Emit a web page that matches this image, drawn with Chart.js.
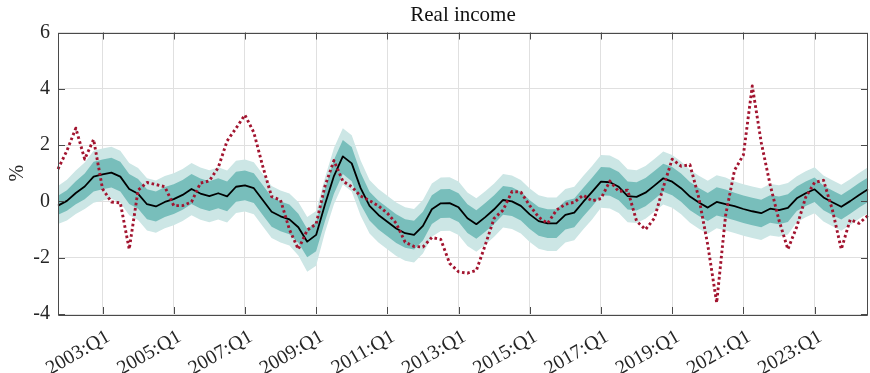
<!DOCTYPE html>
<html><head><meta charset="utf-8">
<script src="https://cdn.jsdelivr.net/npm/chart.js@4"></script>
<style>html,body{margin:0;padding:0;background:#fff;}#wrap{width:870px;height:373px;position:relative;}</style>
</head><body><div id="wrap"><canvas id="c"></canvas></div>
<script>
const quarters = ['2001:Q4',
'2002:Q1','2002:Q2','2002:Q3','2002:Q4','2003:Q1','2003:Q2','2003:Q3','2003:Q4',
'2004:Q1','2004:Q2','2004:Q3','2004:Q4','2005:Q1','2005:Q2','2005:Q3','2005:Q4',
'2006:Q1','2006:Q2','2006:Q3','2006:Q4','2007:Q1','2007:Q2','2007:Q3','2007:Q4',
'2008:Q1','2008:Q2','2008:Q3','2008:Q4','2009:Q1','2009:Q2','2009:Q3','2009:Q4',
'2010:Q1','2010:Q2','2010:Q3','2010:Q4','2011:Q1','2011:Q2','2011:Q3','2011:Q4',
'2012:Q1','2012:Q2','2012:Q3','2012:Q4','2013:Q1','2013:Q2','2013:Q3','2013:Q4',
'2014:Q1','2014:Q2','2014:Q3','2014:Q4','2015:Q1','2015:Q2','2015:Q3','2015:Q4',
'2016:Q1','2016:Q2','2016:Q3','2016:Q4','2017:Q1','2017:Q2','2017:Q3','2017:Q4',
'2018:Q1','2018:Q2','2018:Q3','2018:Q4','2019:Q1','2019:Q2','2019:Q3','2019:Q4',
'2020:Q1','2020:Q2','2020:Q3','2020:Q4','2021:Q1','2021:Q2','2021:Q3','2021:Q4',
'2022:Q1','2022:Q2','2022:Q3','2022:Q4','2023:Q1','2023:Q2','2023:Q3','2023:Q4',
'2024:Q1','2024:Q2','2024:Q3'];
const xTickLabels = ['2003:Q1','2005:Q1','2007:Q1','2009:Q1','2011:Q1','2013:Q1','2015:Q1','2017:Q1','2019:Q1','2021:Q1','2023:Q1'];
const yTickValues = [-4,-2,0,2,4,6];

const median = [-0.15,0.02,0.30,0.53,0.88,0.96,1.02,0.88,0.44,0.27,
 -0.10,-0.18,-0.02,0.08,0.23,0.44,0.28,0.19,0.29,0.18,
 0.52,0.57,0.47,0.05,-0.37,-0.53,-0.64,-0.92,-1.43,-1.19,
 -0.10,0.90,1.60,1.35,0.47,-0.16,-0.48,-0.72,-0.96,-1.13,
 -1.19,-0.87,-0.28,-0.07,-0.06,-0.21,-0.60,-0.81,-0.56,-0.28,
 0.05,0.00,-0.16,-0.46,-0.70,-0.78,-0.78,-0.48,-0.40,-0.02,
 0.34,0.70,0.68,0.52,0.19,0.16,0.31,0.56,0.82,0.70,
 0.47,0.17,-0.04,-0.22,-0.02,-0.10,-0.17,-0.27,-0.35,-0.42,
 -0.26,-0.31,-0.23,0.11,0.29,0.43,0.14,-0.03,-0.19,0.01,
 0.23,0.43];

const actual = [1.15,1.8,2.6,1.5,2.2,0.45,-0.02,-0.05,-1.7,0.4,
 0.67,0.6,0.52,-0.15,-0.15,-0.02,0.65,0.73,1.2,2.15,
 2.6,3.07,2.45,1.25,0.17,0.05,-1.0,-1.7,-1.02,-0.8,
 0.55,1.45,0.72,0.52,0.19,0.03,-0.16,-0.42,-0.78,-1.45,
 -1.6,-1.62,-1.28,-1.35,-2.2,-2.5,-2.55,-2.45,-1.55,-0.6,
 -0.31,0.35,0.33,-0.15,-0.56,-0.78,-0.31,-0.1,-0.03,0.22,
 0.02,0.1,0.72,0.35,0.4,-0.7,-1.0,-0.6,0.5,1.5,
 1.25,1.3,0.12,-1.55,-3.6,-0.5,1.1,1.65,4.1,2.1,
 0.6,-0.67,-1.7,-0.9,0.15,0.67,0.75,-0.3,-1.7,-0.65,
 -0.78,-0.5];

const outerUpper = [0.55,0.77,1.10,1.38,1.80,1.88,1.94,1.80,1.36,1.19,
 0.82,0.74,0.90,1.00,1.15,1.36,1.20,1.11,1.21,1.10,
 1.44,1.49,1.39,0.97,0.55,0.39,0.28,-0.02,-0.55,-0.34,
 0.85,1.90,2.60,2.35,1.45,0.76,0.44,0.20,-0.04,-0.21,
 -0.27,0.05,0.64,0.85,0.86,0.71,0.32,0.11,0.36,0.64,
 0.97,0.92,0.76,0.46,0.22,0.14,0.14,0.44,0.52,0.90,
 1.26,1.65,1.63,1.47,1.14,1.11,1.26,1.51,1.77,1.65,
 1.42,1.12,0.91,0.73,0.93,0.85,0.71,0.61,0.53,0.46,
 0.62,0.57,0.65,0.89,1.07,1.21,0.92,0.75,0.59,0.79,
 1.01,1.21];

const outerLower = [-0.80,-0.68,-0.45,-0.27,-0.05,0.03,0.09,-0.05,-0.49,-0.66,
 -1.03,-1.11,-0.95,-0.85,-0.70,-0.49,-0.65,-0.74,-0.64,-0.75,
 -0.41,-0.36,-0.46,-0.88,-1.30,-1.46,-1.57,-1.92,-2.50,-2.29,
 -1.10,-0.10,0.60,0.35,-0.51,-1.14,-1.46,-1.70,-1.94,-2.11,
 -2.17,-1.85,-1.26,-1.05,-1.04,-1.19,-1.58,-1.79,-1.54,-1.26,
 -0.93,-0.98,-1.14,-1.44,-1.68,-1.76,-1.76,-1.46,-1.38,-1.00,
 -0.64,-0.23,-0.25,-0.41,-0.74,-0.77,-0.62,-0.37,-0.11,-0.23,
 -0.46,-0.76,-0.97,-1.15,-0.95,-1.03,-1.12,-1.22,-1.30,-1.37,
 -1.21,-1.26,-1.18,-0.74,-0.56,-0.42,-0.71,-0.88,-1.04,-0.84,
 -0.62,-0.42];

const innerUpper = [0.20,0.40,0.72,0.99,1.41,1.49,1.55,1.41,0.97,0.80,
 0.43,0.35,0.51,0.61,0.76,0.97,0.81,0.72,0.82,0.71,
 1.05,1.10,1.00,0.58,0.16,0.00,-0.11,-0.44,-0.98,-0.74,
 0.45,1.48,2.18,1.93,1.02,0.34,0.02,-0.22,-0.46,-0.63,
 -0.69,-0.37,0.22,0.43,0.44,0.29,-0.10,-0.31,-0.06,0.22,
 0.55,0.50,0.34,0.04,-0.20,-0.28,-0.28,0.02,0.10,0.48,
 0.84,1.22,1.20,1.04,0.71,0.68,0.83,1.08,1.34,1.22,
 0.99,0.69,0.48,0.30,0.50,0.42,0.31,0.21,0.13,0.06,
 0.22,0.17,0.25,0.53,0.71,0.85,0.56,0.39,0.23,0.43,
 0.65,0.85];

const innerLower = [-0.47,-0.33,-0.10,0.08,0.35,0.43,0.49,0.35,-0.09,-0.26,
 -0.63,-0.71,-0.55,-0.45,-0.30,-0.09,-0.25,-0.34,-0.24,-0.35,
 -0.01,0.04,-0.06,-0.48,-0.90,-1.06,-1.17,-1.47,-1.98,-1.77,
 -0.70,0.27,0.97,0.72,-0.11,-0.68,-1.00,-1.24,-1.48,-1.65,
 -1.71,-1.39,-0.80,-0.59,-0.58,-0.73,-1.12,-1.33,-1.08,-0.80,
 -0.47,-0.52,-0.68,-0.98,-1.22,-1.30,-1.30,-1.00,-0.92,-0.54,
 -0.18,0.22,0.20,0.04,-0.29,-0.32,-0.17,0.08,0.34,0.22,
 -0.01,-0.31,-0.52,-0.70,-0.50,-0.58,-0.67,-0.77,-0.85,-0.92,
 -0.76,-0.81,-0.73,-0.34,-0.16,-0.02,-0.31,-0.48,-0.64,-0.44,
 -0.22,-0.02];

const FONT = "'Liberation Serif', 'DejaVu Serif', serif";
const AXIS_COLOR = '#4a4a4a';
const TEXT_COLOR = '#262626';
const GRID_COLOR = '#e0e0e0';
const LIGHT_BAND = '#cce6e5';
const DARK_BAND = '#78bebb';
const RED = '#a2142f';

const boxPlugin = {
  id: 'box',
  afterDatasetsDraw(chart) {
    const {ctx, chartArea: {left, right, top, bottom}, scales: {x, y}} = chart;
    ctx.save();
    ctx.strokeStyle = AXIS_COLOR;
    ctx.lineWidth = 1;
    ctx.beginPath();
    ctx.rect(Math.round(left) + 0.5, Math.round(top) + 0.5, Math.round(right - left) - 1, Math.round(bottom - top));
    const tl = 7;
    xTickLabels.forEach(l => {
      const px = Math.round(x.getPixelForValue(quarters.indexOf(l))) + 0.5;
      ctx.moveTo(px, bottom); ctx.lineTo(px, bottom - tl);
      ctx.moveTo(px, top); ctx.lineTo(px, top + tl);
    });
    yTickValues.forEach(v => {
      const py = Math.round(y.getPixelForValue(v)) + 0.5;
      ctx.moveTo(left, py); ctx.lineTo(left + tl, py);
      ctx.moveTo(right, py); ctx.lineTo(right - tl, py);
    });
    ctx.stroke();
    ctx.restore();
  }
};

new Chart(document.getElementById('c'), {
  type: 'line',
  data: {
    labels: quarters,
    datasets: [
      {label: 'Actual', data: actual, borderColor: RED, borderWidth: 2.9, borderDash: [2.6, 2.7], borderCapStyle: 'butt', borderJoinStyle: 'round', pointRadius: 0, fill: false, tension: 0},
      {label: 'Median', data: median, borderColor: '#000', borderWidth: 1.8, borderJoinStyle: 'round', pointRadius: 0, fill: false, tension: 0},
      {label: 'Inner upper', data: innerUpper, borderWidth: 0, borderColor: 'rgba(0,0,0,0)', backgroundColor: DARK_BAND, pointRadius: 0, fill: '+1', tension: 0},
      {label: 'Inner lower', data: innerLower, borderWidth: 0, borderColor: 'rgba(0,0,0,0)', pointRadius: 0, fill: false, tension: 0},
      {label: 'Outer upper', data: outerUpper, borderWidth: 0, borderColor: 'rgba(0,0,0,0)', backgroundColor: LIGHT_BAND, pointRadius: 0, fill: '+1', tension: 0},
      {label: 'Outer lower', data: outerLower, borderWidth: 0, borderColor: 'rgba(0,0,0,0)', pointRadius: 0, fill: false, tension: 0}
    ]
  },
  options: {
    responsive: true,
    maintainAspectRatio: false,
    animation: false,
    events: [],
    layout: {padding: {left: 0, right: 2, top: 0, bottom: 0}},
    plugins: {
      legend: {display: false},
      tooltip: {enabled: false},
      title: {display: true, fullSize: false, text: 'Real income', color: '#111', font: {family: FONT, size: 21, weight: 'normal'}, padding: {top: 3, bottom: 4.3}}
    },
    scales: {
      x: {
        type: 'category',
        offset: false,
        grid: {drawTicks: false, color: ctx => (ctx.tick && xTickLabels.includes(quarters[ctx.tick.value])) ? GRID_COLOR : 'rgba(0,0,0,0)'},
        border: {display: false},
        ticks: {
          autoSkip: false, maxRotation: 30, minRotation: 30, padding: 11, labelOffset: 6,
          color: TEXT_COLOR, font: {family: FONT, size: 20},
          callback: function(val) { const l = quarters[val]; return xTickLabels.includes(l) ? l : ''; }
        },
        afterFit: s => { s.height = 59; s.paddingLeft = 0; s.paddingRight = 0; }
      },
      y: {
        min: -4, max: 6,
        afterBuildTicks: s => { s.ticks = yTickValues.map(v => ({value: v})); },
        grid: {drawTicks: false, color: GRID_COLOR},
        border: {display: false},
        ticks: {padding: 8, color: TEXT_COLOR, font: {family: FONT, size: 20}, callback: v => String(v)},
        title: {display: true, text: '%', color: TEXT_COLOR, font: {family: FONT, size: 20}, padding: {top: 6, bottom: 0}},
        afterFit: s => { s.width = 58; }
      }
    }
  },
  plugins: [boxPlugin]
});
</script>
</body></html>
